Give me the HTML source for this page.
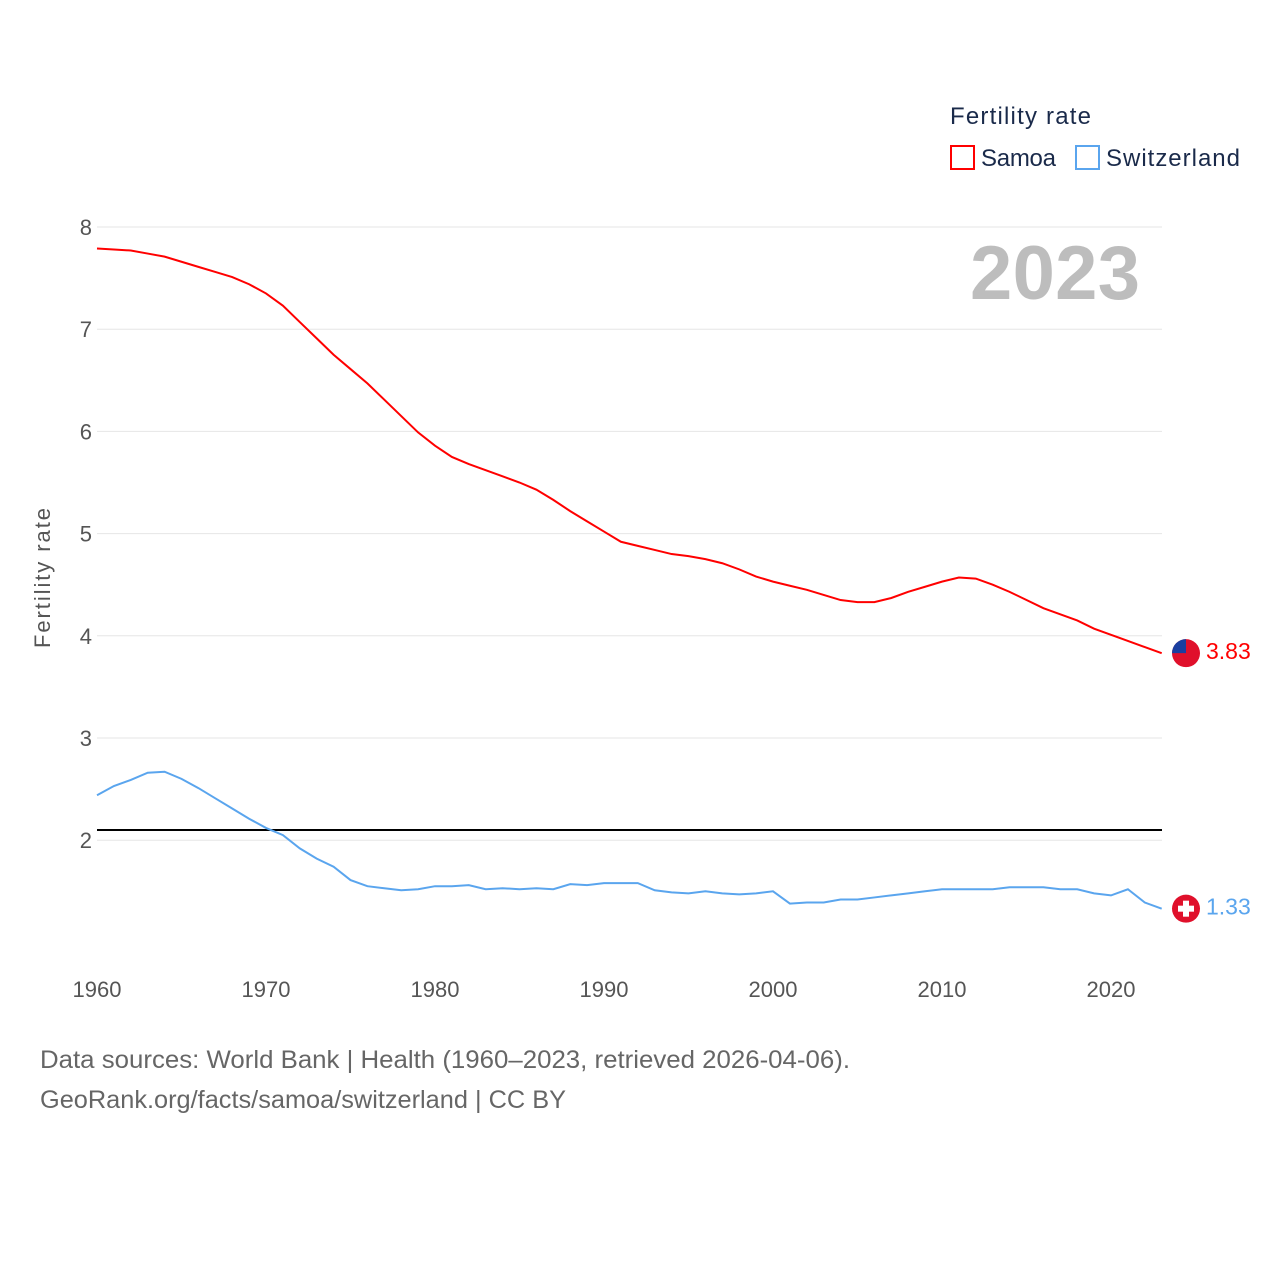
<!DOCTYPE html>
<html><head><meta charset="utf-8">
<style>
body{margin:0;background:#fff;font-family:"Liberation Sans",sans-serif;}
#wrap{position:relative;width:1280px;height:1280px;}
text{font-family:"Liberation Sans",sans-serif;}
</style></head><body>
<div id="wrap">
<svg id="chart" width="1280" height="1280">
<text x="950" y="124" font-size="24" fill="#1a2a4a" textLength="141">Fertility rate</text>
<g>
<rect x="951" y="146" width="23" height="23" fill="none" stroke="#f00" stroke-width="2"/>
<text x="981" y="166" font-size="24" fill="#1a2a4a" textLength="75">Samoa</text></g>
<g>
<rect x="1076" y="146" width="23" height="23" fill="none" stroke="#5aa5ee" stroke-width="2"/>
<text x="1106" y="166" font-size="24" fill="#1a2a4a" textLength="134">Switzerland</text></g>
<text x="1140" y="299" font-size="76" font-weight="bold" fill="#bdbdbd" text-anchor="end" textLength="170">2023</text>
<text transform="translate(50,578) rotate(-90)" font-size="22" fill="#555" text-anchor="middle" textLength="140">Fertility rate</text>
<g id="grid"></g><g id="series"></g>
<text x="40" y="1068" font-size="25" fill="#666" textLength="810" lengthAdjust="spacingAndGlyphs">Data sources: World Bank | Health (1960–2023, retrieved 2026-04-06).</text>
<text x="40" y="1108" font-size="25" fill="#666" textLength="526" lengthAdjust="spacingAndGlyphs">GeoRank.org/facts/samoa/switzerland | CC BY</text>
</svg></div>
<script>
const years=[];for(let y=1960;y<=2023;y++)years.push(y);
const yTicks=[2,3,4,5,6,7,8];
const xTicks=[1960,1970,1980,1990,2000,2010,2020];
const replacementRate=[2.1];
const samoa=[7.79,7.78,7.77,7.74,7.71,7.66,7.61,7.56,7.51,7.44,7.35,7.23,7.07,6.91,6.75,6.61,6.47,6.31,6.15,5.99,5.86,5.75,5.68,5.62,5.56,5.50,5.43,5.33,5.22,5.12,5.02,4.92,4.88,4.84,4.80,4.78,4.75,4.71,4.65,4.58,4.53,4.49,4.45,4.40,4.35,4.33,4.33,4.37,4.43,4.48,4.53,4.57,4.56,4.50,4.43,4.35,4.27,4.21,4.15,4.07,4.01,3.95,3.89,3.83];
const swiss=[2.44,2.53,2.59,2.66,2.67,2.60,2.51,2.41,2.31,2.21,2.12,2.05,1.92,1.82,1.74,1.61,1.55,1.53,1.51,1.52,1.55,1.55,1.56,1.52,1.53,1.52,1.53,1.52,1.57,1.56,1.58,1.58,1.58,1.51,1.49,1.48,1.50,1.48,1.47,1.48,1.50,1.38,1.39,1.39,1.42,1.42,1.44,1.46,1.48,1.50,1.52,1.52,1.52,1.52,1.54,1.54,1.54,1.52,1.52,1.48,1.46,1.52,1.39,1.33];
const X=y=>97+(y-1960)*16.9;
const Y=v=>1044.6-v*102.2;
const NS="http://www.w3.org/2000/svg";
function mk(t,a,p){const e=document.createElementNS(NS,t);for(const k in a)e.setAttribute(k,a[k]);p.appendChild(e);return e;}
const grid=document.getElementById('grid'),ser=document.getElementById('series');
yTicks.forEach(v=>{
 const l=mk('line',{x1:97,x2:1162,y1:Y(v),y2:Y(v),stroke:'#e6e6e6','stroke-width':1},grid);
 
 
 const t=mk('text',{x:92,y:Y(v)+8,'font-size':22,fill:'#555','text-anchor':'end'},grid);t.textContent=v;
 
 
});
xTicks.forEach(v=>{
 const t=mk('text',{x:X(v),y:997,'font-size':22,fill:'#555','text-anchor':'middle'},grid);t.textContent=v;
 
 
});
const rl=mk('line',{x1:97,x2:1162,y1:Y(replacementRate[0]),y2:Y(replacementRate[0]),stroke:'#000','stroke-width':2},ser);


function line(d,c,n){
 const p=mk('polyline',{points:d.map((v,i)=>X(years[i])+','+Y(v)).join(' '),fill:'none',stroke:c,'stroke-width':2},ser);
 
 
 const last=d[d.length-1];
 const c1=mk('circle',{cx:1186,cy:Y(last),r:14,fill:'#e0102b'},ser);
 
 
 const t=mk('text',{x:1206,y:Y(last)+6,'font-size':23,fill:c},ser);t.textContent=last.toFixed(2);
 
 
 return Y(last);
}
const ys=line(samoa,'#f00','samoa');
mk('path',{d:`M1172 ${ys} A14 14 0 0 1 1186 ${ys-14} L1186 ${ys} Z`,fill:'#1a3fa0'},ser);
const yw=line(swiss,'#5aa5ee','switzerland');
mk('rect',{x:1183,y:yw-8,width:6,height:16,fill:'#fff'},ser);
mk('rect',{x:1178,y:yw-3,width:16,height:6,fill:'#fff'},ser);
</script></body></html>
